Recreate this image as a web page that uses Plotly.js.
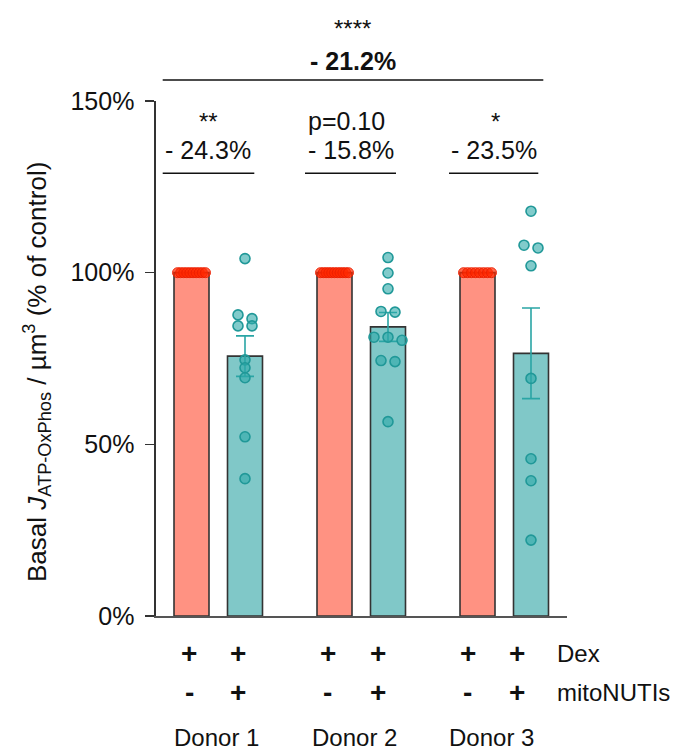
<!DOCTYPE html>
<html>
<head>
<meta charset="utf-8">
<script src="https://cdn.plot.ly/plotly-3.0.1.min.js"></script>
<style>html,body{margin:0;padding:0;background:#fff;}#chart{width:694px;height:753px;}</style>
</head>
<body>
<div id="chart"></div>
<script>
// ---------------- DATA ----------------
const donors = ['Donor 1', 'Donor 2', 'Donor 3'];
const controlMean = [100, 100, 100];
const treatedMean = [75.7, 84.2, 76.5];
const treatedSEM = [5.9, 4.2, 13.2];
const controlPoints = [
  [100, 100, 100, 100, 100, 100, 100, 100, 100, 100],
  [100, 100, 100, 100, 100, 100, 100, 100, 100, 100, 100],
  [100, 100, 100, 100, 100, 100, 100, 100]
];
const treatedPoints = [
  [104.1, 87.7, 86.6, 84.5, 84.5, 74.6, 72.3, 69.4, 52.2, 40.0],
  [104.4, 99.9, 95.3, 88.7, 88.5, 81.2, 81.2, 80.3, 74.4, 74.1, 56.6],
  [117.9, 108.0, 107.2, 102.0, 69.2, 45.8, 39.4, 22.1]
];
const sigLabels = ['**', 'p=0.10', '*'];
const pctLabels = ['- 24.3%', '- 15.8%', '- 23.5%'];
const overallSig = '****';
const overallPct = '- 21.2%';
const dexRow = ['+', '+', '+', '+', '+', '+'];
const mitoRow = ['-', '+', '-', '+', '-', '+'];
const rowNames = ['Dex', 'mitoNUTIs'];
const yTickVals = [0, 50, 100, 150];
const yTickText = ['0%', '50%', '100%', '150%'];

// ---------------- LAYOUT GEOMETRY (pixels) ----------------
const W = 694, H = 753;
const plotL = 156, plotR = 567, plotT = 101, plotB = 616;
const yMax = 150;
const pxPerUnit = (plotB - plotT) / yMax;
const barW = 35;
const groupStep = 143, pairStep = 53.5, firstCenter = 35.5; // in x-axis units (= px from plotL)
const ctrlX = donors.map((d, g) => firstCenter + g * groupStep);
const trtX = ctrlX.map(x => x + pairStep);
const FONT = 'Liberation Sans, Arial, Helvetica, sans-serif';
const py = p => (plotB - p) / (plotB - plotT);     // pixel y -> paper y
const px = p => p - plotL;                           // pixel x -> x data

// simple row-based beeswarm: groups close values into rows, centres each row
function swarm(values, center, maxHalf) {
  const idx = values.map((v, i) => i).sort((a, b) => values[b] - values[a]);
  const rows = [];
  idx.forEach(i => {
    const last = rows[rows.length - 1];
    if (last && (values[last[0]] - values[i]) * pxPerUnit < 7) last.push(i);
    else rows.push([i]);
  });
  const xs = new Array(values.length);
  rows.forEach(r => {
    const k = r.length;
    const step = k > 1 ? Math.min(14, 2 * maxHalf / (k - 1)) : 0;
    r.forEach((i, j) => { xs[i] = center + (j - (k - 1) / 2) * step; });
  });
  return xs;
}

const traces = [];
traces.push({
  type: 'bar', x: ctrlX, y: controlMean, width: barW,
  marker: {color: '#ff9282', line: {color: '#333', width: 1.6}},
  hoverinfo: 'skip', showlegend: false
});
traces.push({
  type: 'bar', x: trtX, y: treatedMean, width: barW,
  marker: {color: '#80c8c8', line: {color: '#333', width: 1.6}},
  error_y: {type: 'data', array: treatedSEM, visible: true, color: '#2aa5a5', thickness: 1.6, width: 9},
  hoverinfo: 'skip', showlegend: false
});
donors.forEach((d, g) => {
  traces.push({
    type: 'scatter', mode: 'markers',
    x: swarm(controlPoints[g], ctrlX[g], 14), y: controlPoints[g],
    marker: {size: 10, color: 'rgba(255,40,0,0.7)', line: {color: 'rgba(235,30,0,0.9)', width: 1}},
    cliponaxis: false, hoverinfo: 'skip', showlegend: false
  });
  traces.push({
    type: 'scatter', mode: 'markers',
    x: swarm(treatedPoints[g], trtX[g], 14), y: treatedPoints[g],
    marker: {size: 10, color: 'rgba(45,168,168,0.6)', line: {color: 'rgb(32,152,152)', width: 1.6}},
    cliponaxis: false, hoverinfo: 'skip', showlegend: false
  });
});

// annotation positions (pixels)
const sigX = [208.3, 346.7, 495], sigY = [122, 121, 122];
const pctX = [208, 350.5, 494.3], pctY = 150;
const lineSpans = [[162.7, 254.3], [305, 396], [449, 538.3]], lineY = 173.3;
const topSpan = [162.7, 543.3], topLineY = 80;
const colX = [189.3, 238.3, 327.7, 377.7, 467.7, 516.7];
const donorX = [216.7, 354, 491.7];
const rowY = [653, 692], donorY = 737, rowNameX = 555;

const annotations = [];
const shapes = [];
const txt = (text, x, y, size, opts) => Object.assign({
  text: text, x: px(x), y: py(y), xref: 'x', yref: 'paper',
  xanchor: 'center', yanchor: 'middle', showarrow: false,
  font: {family: FONT, size: size, color: '#111'}
}, opts || {});

annotations.push(txt(overallSig, 352, 28, 24));
annotations.push(txt('<b>' + overallPct + '</b>', 352.5, 61, 25));
shapes.push({type: 'line', xref: 'x', yref: 'paper', x0: px(topSpan[0]), x1: px(topSpan[1]),
  y0: py(topLineY), y1: py(topLineY), line: {color: '#111', width: 1.6}});
donors.forEach((d, g) => {
  annotations.push(txt(sigLabels[g], sigX[g], sigY[g], g === 1 ? 25 : 24));
  annotations.push(txt(pctLabels[g], pctX[g], pctY, 25));
  shapes.push({type: 'line', xref: 'x', yref: 'paper', x0: px(lineSpans[g][0]), x1: px(lineSpans[g][1]),
    y0: py(lineY), y1: py(lineY), line: {color: '#111', width: 1.6}});
  annotations.push(txt(d, donorX[g], donorY, 24));
});
dexRow.forEach((s, i) => annotations.push(txt('<b>' + s + '</b>', colX[i], rowY[0], 28)));
mitoRow.forEach((s, i) => annotations.push(txt('<b>' + s + '</b>', colX[i], rowY[1], 28)));
rowNames.forEach((s, i) => annotations.push(txt(s, rowNameX, rowY[i], 24, {xanchor: 'left'})));

// y-axis title
annotations.push({
  text: 'Basal <i>J</i><sub>ATP-OxPhos</sub> / µm<sup>3</sup> (% of control)',
  x: (37 - plotL) / (plotR - plotL), y: py(372), xref: 'paper', yref: 'paper',
  xanchor: 'center', yanchor: 'middle', textangle: -90, showarrow: false,
  font: {family: FONT, size: 26, color: '#111'}
});

const layout = {
  width: W, height: H,
  margin: {l: plotL, r: W - plotR, t: plotT, b: H - plotB, pad: 0},
  paper_bgcolor: '#fff', plot_bgcolor: '#fff',
  showlegend: false,
  font: {family: FONT, size: 24, color: '#111'},
  xaxis: {range: [0, plotR - plotL], showgrid: false, zeroline: false, showline: true,
    linecolor: '#555', linewidth: 1.6, showticklabels: false, ticks: '', fixedrange: true},
  yaxis: {range: [0, yMax], showgrid: false, zeroline: false, showline: true,
    linecolor: '#333', linewidth: 1.6, ticks: 'outside', ticklen: 9, tickwidth: 1.6, tickcolor: '#333',
    tickvals: yTickVals, ticktext: yTickText, ticklabelstandoff: 6,
    tickfont: {family: FONT, size: 25, color: '#111'}, fixedrange: true},
  annotations: annotations,
  shapes: shapes,
  bargap: 0
};

Plotly.newPlot('chart', traces, layout, {displayModeBar: false, staticPlot: true});
</script>
</body>
</html>
